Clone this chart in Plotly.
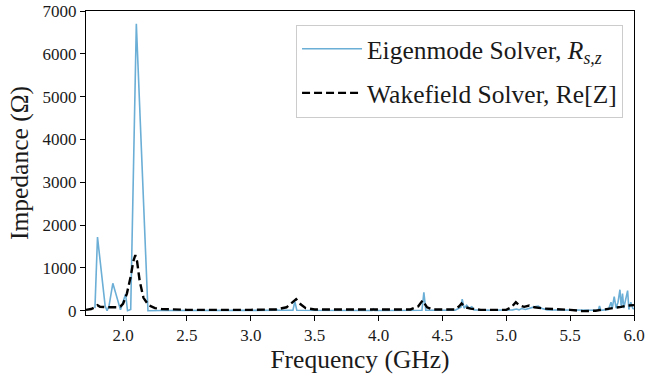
import plotly.graph_objects as go

# Eigenmode solver: shunt impedance per mode (GHz, Ohm)
eig_freq = [1.78, 1.80, 1.86, 1.875, 1.89, 1.92, 1.98, 2.02, 2.035, 2.06, 2.104, 2.195,
            2.3, 2.6, 2.9, 3.19, 3.2, 3.21, 3.33, 3.345, 3.36, 3.5, 3.95, 3.96, 3.97,
            4.34, 4.355, 4.37, 4.6, 4.645, 4.655, 4.67, 4.69, 4.71, 4.73, 4.75, 4.9,
            5.05, 5.08, 5.1, 5.12, 5.15, 5.18, 5.22, 5.25, 5.28, 5.32, 5.6, 5.72, 5.73,
            5.74, 5.8, 5.82, 5.83, 5.845, 5.86, 5.875, 5.89, 5.9, 5.91, 5.92, 5.95,
            5.96, 5.975, 5.99, 6.0]
eig_imp = [60, 1720, 110, 0, 110, 640, 20, 390, 0, 30, 6700, 0,
           5, 5, 10, 10, 40, 10, 10, 220, 10, 5, 5, 40, 5,
           10, 430, 10, 10, 80, 270, 60, 130, 60, 90, 20, 10,
           20, 40, 20, 50, 30, 60, 90, 110, 50, 20, 10, 10, 110,
           10, 30, 200, 60, 330, 60, 200, 490, 80, 400, 60, 470,
           30, 200, 60, 40]

# Wakefield solver: real part of the longitudinal impedance (GHz, Ohm)
wake_freq = [1.71, 1.75, 1.78, 1.80, 1.82, 1.85, 1.9, 1.95, 1.98, 2.0, 2.03, 2.06,
             2.08, 2.096, 2.11, 2.13, 2.16, 2.2, 2.25, 2.3, 2.5, 3.0, 3.2, 3.28,
             3.32, 3.355, 3.39, 3.43, 3.5, 4.0, 4.25, 4.31, 4.345, 4.38, 4.42, 4.6,
             4.63, 4.65, 4.68, 4.72, 4.8, 5.0, 5.04, 5.075, 5.1, 5.14, 5.18, 5.22,
             5.3, 5.5, 5.6, 5.7, 5.8, 5.9, 5.95, 6.0]
wake_imp = [20, 40, 80, 130, 90, 80, 80, 80, 100, 160, 400, 800,
            1150, 1300, 1150, 700, 300, 130, 60, 40, 20, 20, 30, 80,
            180, 270, 150, 60, 30, 20, 30, 100, 240, 80, 30, 30,
            100, 170, 80, 50, 20, 20, 80, 200, 130, 90, 120, 80,
            50, 20, -10, 0, 40, 90, 120, 130]

x_ticks = [2.0, 2.5, 3.0, 3.5, 4.0, 4.5, 5.0, 5.5, 6.0]
y_ticks = [0, 1000, 2000, 3000, 4000, 5000, 6000, 7000]

serif = "Liberation Serif, Times New Roman, serif"
ink = "#1a1a1a"

fig = go.Figure()
fig.add_trace(go.Scatter(
    x=eig_freq, y=eig_imp, mode="lines",
    name="Eigenmode Solver, <i>R</i><sub><i>s,z</i></sub>",
    line=dict(color="#6baed6", width=1.6),
    legendgroup="a",
))
fig.add_trace(go.Scatter(
    x=wake_freq, y=wake_imp, mode="lines",
    name="Wakefield Solver, Re[Z]",
    line=dict(color="black", width=2.4, dash="8px,4px"),
    legendgroup="b",
))

axis_common = dict(
    showline=True, linecolor="black", linewidth=1, mirror=True,
    ticks="outside", ticklen=5, tickcolor="black", tickwidth=1,
    showgrid=False, zeroline=False, automargin=False,
    ticklabeloverflow="allow",
    tickfont=dict(family=serif, size=17, color=ink),
)

fig.update_xaxes(
    range=[1.71, 6.0], tickvals=x_ticks, tickformat=".1f",
    title=dict(text="Frequency (GHz)", font=dict(family=serif, size=25.5, color=ink), standoff=0),
    **axis_common,
)
fig.update_yaxes(
    range=[-100, 7000], tickvals=y_ticks,
    title=dict(text="Impedance (Ω)", font=dict(family=serif, size=25.5, color=ink), standoff=6),
    **axis_common,
)

fig.update_layout(
    width=646, height=378,
    margin=dict(l=86, r=12, t=11, b=63),
    paper_bgcolor="white", plot_bgcolor="white",
    font=dict(family=serif, color=ink),
    legend=dict(
        x=0.98, y=0.955, xanchor="right", yanchor="top",
        bgcolor="rgba(255,255,255,0.85)", bordercolor="#cccccc", borderwidth=1,
        font=dict(family=serif, size=25.5, color=ink),
        traceorder="grouped", tracegroupgap=8, itemwidth=60,
    ),
)

fig.write_html("out.html")
